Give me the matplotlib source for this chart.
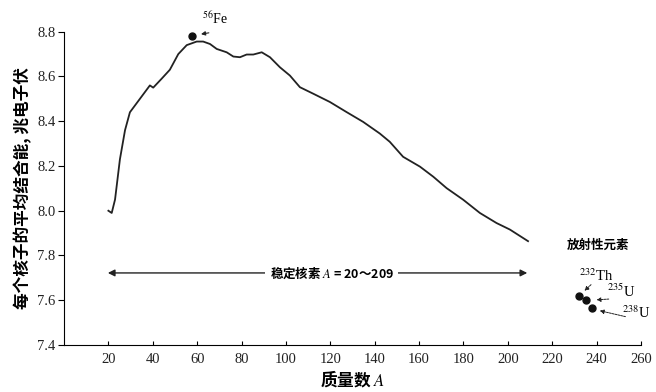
import numpy as np
import matplotlib
matplotlib.use('Agg')
import matplotlib.pyplot as plt

plt.rcParams['font.family'] = ['Noto Sans CJK SC', 'DejaVu Sans']
plt.rcParams['mathtext.fontset'] = 'stix'

# Кривая удельной энергии связи
mass_a = [20.0, 21.5, 23.0, 25.2, 27.5, 29.7, 34.2, 38.7, 40.2, 44.0, 47.7, 51.5,
          55.3, 59.8, 62.7, 65.8, 68.8, 73.3, 76.3, 79.3, 82.3, 85.3, 89.1, 92.8,
          97.3, 101.8, 106.3, 112.3, 119.8, 127.3, 134.8, 142.3, 146.8, 152.8,
          160.4, 166.4, 172.4, 179.9, 187.4, 194.9, 200.9, 209.1]
energy = [8.00, 7.99, 8.05, 8.23, 8.36, 8.44, 8.50, 8.56, 8.55, 8.59, 8.63, 8.70,
          8.74, 8.756, 8.756, 8.745, 8.723, 8.708, 8.689, 8.686, 8.698, 8.698,
          8.708, 8.686, 8.641, 8.604, 8.552, 8.523, 8.486, 8.441, 8.397, 8.345,
          8.308, 8.241, 8.197, 8.152, 8.101, 8.049, 7.990, 7.945, 7.916, 7.864]

# Отдельные нуклиды
fe_a, fe_e = 57.5, 8.78
rad_names = ['$^{232}$Th', '$^{235}$U', '$^{238}$U']
rad_a = [232, 235, 238]
rad_e = [7.62, 7.60, 7.565]

x_ticks = list(range(20, 261, 20))
y_ticks = [7.4, 7.6, 7.8, 8.0, 8.2, 8.4, 8.6, 8.8]

fig = plt.figure(figsize=(6.56, 3.92), dpi=100)
ax = fig.add_axes([64/656, 1 - 345/392, 577/656, 313.3/392])

ax.plot(mass_a, energy, color='#222222', lw=1.3)
ax.plot([fe_a], [fe_e], 'o', color='#111111', ms=5, clip_on=False)
ax.plot(rad_a, rad_e, 'o', color='#111111', ms=5, ls='none')

ax.set_xlim(0, 260)
ax.set_ylim(7.4, 8.8)
ax.set_xticks(x_ticks)
ax.set_yticks(y_ticks)
ax.set_yticklabels([f'{v:.1f}' for v in y_ticks])
for s in ['top', 'right']:
    ax.spines[s].set_visible(False)
ax.tick_params(axis='x', direction='in', length=3, pad=6)
ax.tick_params(axis='y', direction='out', length=4, pad=2)
for lab in ax.get_xticklabels() + ax.get_yticklabels():
    lab.set_family('Liberation Serif')
    lab.set_fontsize(10.5)
    lab.set_color('#222222')

ax.set_ylabel('每个核子的平均结合能, 兆电子伏', fontsize=12, fontweight='bold', labelpad=4)
ax.set_xlabel('质量数 $A$', fontsize=12, fontweight='bold', labelpad=2)

# ⁵⁶Fe
ax.text(68, 8.86, '$^{56}$Fe', fontsize=10, family='Liberation Serif',
        ha='center', va='center', clip_on=False)
ax.annotate('', xy=(60.5, 8.787), xytext=(66.5, 8.797), annotation_clip=False,
            arrowprops=dict(arrowstyle='-|>', color='#222222', lw=0.8, mutation_scale=6))

# стрелка стабильных ядер
ax.annotate('', xy=(18.5, 7.722), xytext=(210, 7.722),
            arrowprops=dict(arrowstyle='<|-|>', color='#222222', lw=1.0, mutation_scale=10))
ax.text(120.6, 7.722, '稳定核素 $A$ = 20～209', fontsize=9, fontweight='bold',
        ha='center', va='center', bbox=dict(facecolor='white', edgecolor='none', pad=3))

# радиоактивные элементы
ax.text(240.5, 7.847, '放射性元素', fontsize=9, fontweight='bold', ha='center', va='center')
txt_pos = [(239.6, 7.71), (251, 7.638), (258, 7.543)]
arr_tail = [(238.4, 7.678), (246.7, 7.606), (254.2, 7.524)]
arr_head = [(233.6, 7.634), (238.7, 7.601), (240.2, 7.556)]
for name, tp, t, h in zip(rad_names, txt_pos, arr_tail, arr_head):
    ax.text(tp[0], tp[1], name, fontsize=10.5, family='Liberation Serif',
            ha='center', va='center', clip_on=False)
    ax.annotate('', xy=h, xytext=t, annotation_clip=False,
                arrowprops=dict(arrowstyle='-|>', color='#222222', lw=0.7,
                                ls=(0, (2, 1)), mutation_scale=6))

fig.savefig('out.png', dpi=100)
